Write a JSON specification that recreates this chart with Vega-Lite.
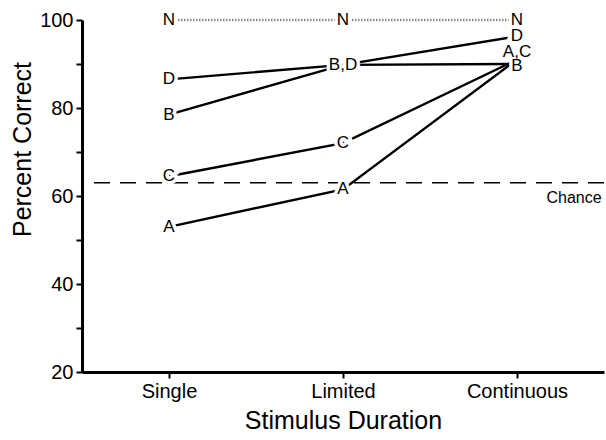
{
  "$schema": "https://vega.github.io/schema/vega-lite/v6.json",
  "autosize": "none",
  "width": 522,
  "height": 352,
  "padding": {"left": 82, "top": 20, "right": 2, "bottom": 68},
  "background": "white",
  "config": {
    "view": {"stroke": null},
    "font": "Liberation Sans",
    "text": {"font": "Liberation Sans"}
  },
  "datasets": {
    "series": [
      {"series": "A", "duration": "Single", "pct": 53},
      {"series": "A", "duration": "Limited", "pct": 61.5},
      {"series": "A", "duration": "Continuous", "pct": 91},
      {"series": "B", "duration": "Single", "pct": 78.5},
      {"series": "B", "duration": "Limited", "pct": 89.8},
      {"series": "B", "duration": "Continuous", "pct": 90},
      {"series": "C", "duration": "Single", "pct": 64.5},
      {"series": "C", "duration": "Limited", "pct": 72},
      {"series": "C", "duration": "Continuous", "pct": 91},
      {"series": "D", "duration": "Single", "pct": 86.5},
      {"series": "D", "duration": "Limited", "pct": 89.8},
      {"series": "D", "duration": "Continuous", "pct": 96.3},
      {"series": "N", "duration": "Single", "pct": 100},
      {"series": "N", "duration": "Limited", "pct": 100},
      {"series": "N", "duration": "Continuous", "pct": 100}
    ],
    "labels": [
      {"label": "N", "duration": "Single", "pct": 100},
      {"label": "D", "duration": "Single", "pct": 86.5},
      {"label": "B", "duration": "Single", "pct": 78.5},
      {"label": "C", "duration": "Single", "pct": 64.5},
      {"label": "A", "duration": "Single", "pct": 53},
      {"label": "N", "duration": "Limited", "pct": 100},
      {"label": "B,D", "duration": "Limited", "pct": 89.8},
      {"label": "C", "duration": "Limited", "pct": 72},
      {"label": "A", "duration": "Limited", "pct": 61.5},
      {"label": "N", "duration": "Continuous", "pct": 100},
      {"label": "D", "duration": "Continuous", "pct": 96.3},
      {"label": "A,C", "duration": "Continuous", "pct": 92.8},
      {"label": "B", "duration": "Continuous", "pct": 89.6}
    ]
  },
  "layer": [
    {
      "data": {"values": [{"chance": 63}]},
      "mark": {"type": "rule", "color": "black", "strokeWidth": 1.6, "strokeDash": [16, 10]},
      "encoding": {
        "y": {"field": "chance", "type": "quantitative", "scale": {"domain": [20, 100]}}
      }
    },
    {
      "data": {"name": "series"},
      "transform": [{"filter": "datum.series != 'N'"}],
      "mark": {"type": "line", "color": "black", "strokeWidth": 2.4},
      "encoding": {
        "x": {
          "field": "duration", "type": "ordinal",
          "sort": ["Single", "Limited", "Continuous"],
          "scale": {"type": "point", "padding": 0.5},
          "axis": {
            "title": "Stimulus Duration",
            "titleFontSize": 25, "titleFontWeight": "normal", "titleColor": "black",
            "titlePadding": 7,
            "labelAngle": 0, "labelFontSize": 20, "labelColor": "black", "labelPadding": 3,
            "domainColor": "black", "domainWidth": 3,
            "tickColor": "black", "tickWidth": 2, "tickSize": 6
          }
        },
        "y": {
          "field": "pct", "type": "quantitative",
          "scale": {"domain": [20, 100], "nice": false, "zero": false},
          "axis": {
            "title": "Percent Correct",
            "titleFontSize": 25, "titleFontWeight": "normal", "titleColor": "black",
            "titleX": -60, "titleY": 129, "titleAlign": "center", "titleBaseline": "middle",
            "values": [20, 30, 40, 50, 60, 70, 80, 90, 100],
            "labelExpr": "datum.value % 20 == 0 ? datum.label : ''",
            "labelFontSize": 20, "labelColor": "black", "labelPadding": 3,
            "domainColor": "black", "domainWidth": 3,
            "tickColor": "black", "tickWidth": 2, "tickSize": 6,
            "grid": false
          }
        },
        "detail": {"field": "series"}
      }
    },
    {
      "data": {"name": "series"},
      "transform": [{"filter": "datum.series == 'N'"}],
      "mark": {"type": "line", "color": "#8a8a8a", "strokeWidth": 2.5, "strokeDash": [1.5, 1.5]},
      "encoding": {
        "x": {"field": "duration", "type": "ordinal", "sort": ["Single", "Limited", "Continuous"]},
        "y": {"field": "pct", "type": "quantitative"}
      }
    },
    {
      "data": {"name": "labels"},
      "mark": {"type": "text", "fontSize": 17, "fill": "white", "stroke": "white", "strokeWidth": 7, "baseline": "middle", "align": "center"},
      "encoding": {
        "x": {"field": "duration", "type": "ordinal", "sort": ["Single", "Limited", "Continuous"]},
        "y": {"field": "pct", "type": "quantitative"},
        "text": {"field": "label"}
      }
    },
    {
      "data": {"name": "labels"},
      "mark": {"type": "text", "fontSize": 17, "color": "black", "baseline": "middle", "align": "center"},
      "encoding": {
        "x": {"field": "duration", "type": "ordinal", "sort": ["Single", "Limited", "Continuous"]},
        "y": {"field": "pct", "type": "quantitative"},
        "text": {"field": "label"}
      }
    },
    {
      "data": {"values": [{"duration": "Continuous", "pct": 63, "label": "Chance"}]},
      "mark": {"type": "text", "fontSize": 16, "color": "black", "baseline": "middle", "align": "center", "dx": 57, "dy": 15},
      "encoding": {
        "x": {"field": "duration", "type": "ordinal", "sort": ["Single", "Limited", "Continuous"]},
        "y": {"field": "pct", "type": "quantitative"},
        "text": {"field": "label"}
      }
    }
  ]
}
